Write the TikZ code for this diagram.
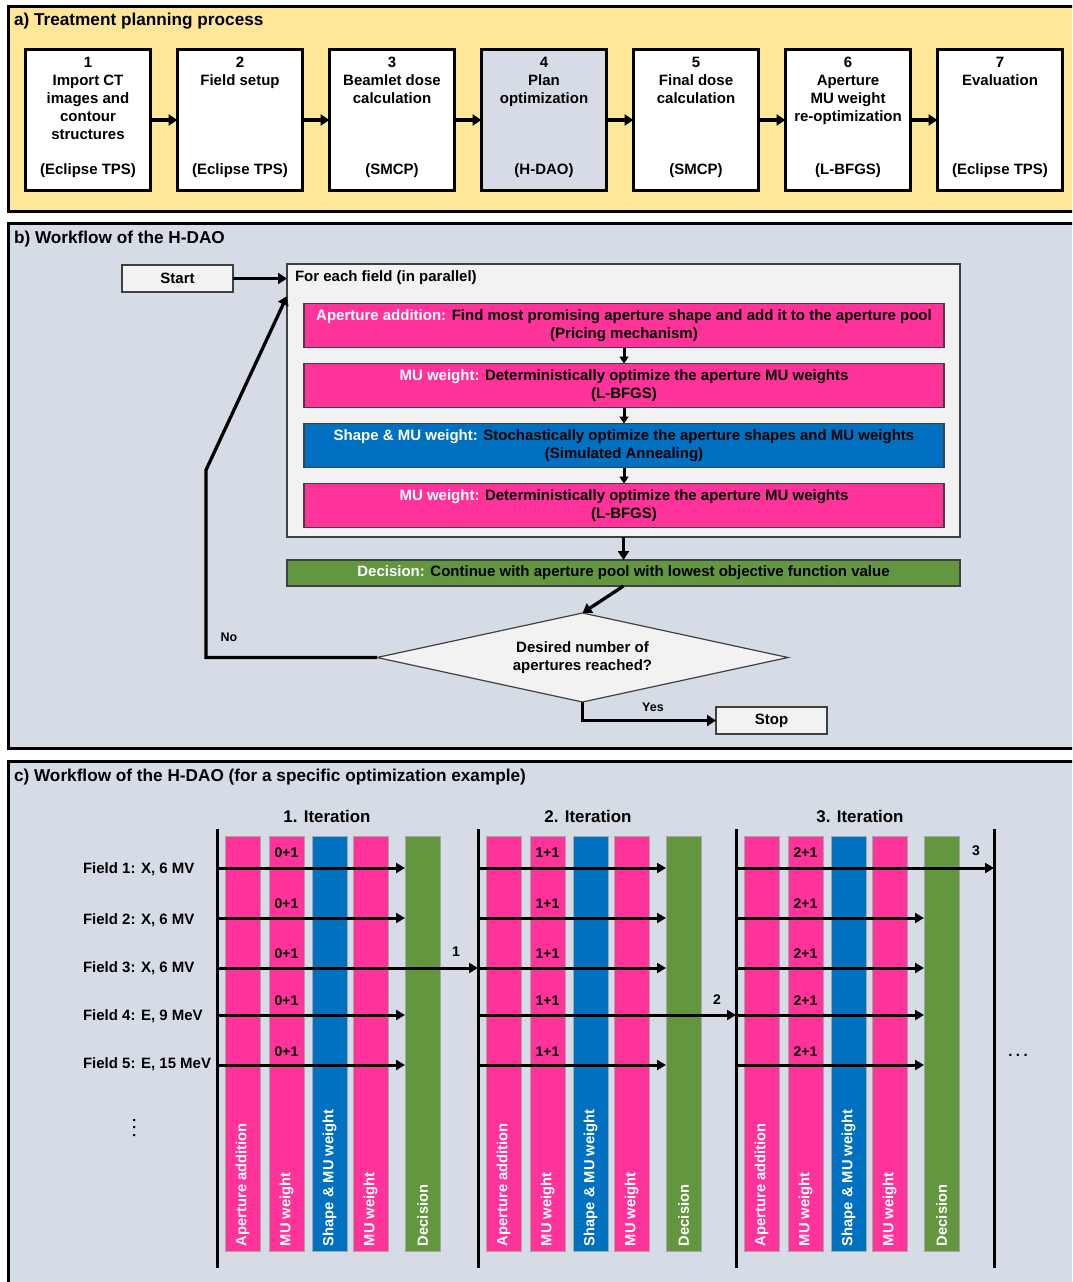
\documentclass[tikz,border=0pt]{standalone}
\usepackage{fontspec}
\setmainfont{Liberation Sans}
\usetikzlibrary{arrows.meta,shapes.geometric,calc}
\definecolor{yellowbg}{HTML}{FFE699}
\definecolor{panelgray}{HTML}{D6DCE5}
\definecolor{boxgray}{HTML}{F2F2F2}
\definecolor{hpink}{HTML}{FF3399}
\definecolor{hblue}{HTML}{0070C0}
\definecolor{hgreen}{HTML}{62963F}
\definecolor{edgegray}{HTML}{404040}
\definecolor{colborder}{HTML}{A6A6A6}
\tikzset{
 base/.style={font=\bfseries\fontsize{15}{18}\selectfont, inner sep=0pt, outer sep=0pt},
 ttl/.style={font=\bfseries\fontsize{17.2}{20}\selectfont, anchor=west},
 iter/.style={font=\bfseries\fontsize{16.9}{20}\selectfont},
 panel/.style={draw=black, line width=3pt},
 abox/.style={draw=black, line width=3pt, minimum width=125, minimum height=141, fill=white},
 atext/.style={anchor=north, align=center},
 bigarrow/.style={line width=3.3pt, -{Triangle[length=9pt,width=11pt]}},
 smallarrow/.style={line width=3pt, -{Triangle[length=7pt,width=9pt]}},
 gbox/.style={draw=edgegray, line width=1.2pt, fill=boxgray},
 pbox/.style={draw=edgegray, line width=1.2pt, minimum width=640, minimum height=44, align=center},
 col/.style={draw=colborder, line width=1pt, minimum width=35, minimum height=415},
 vlab/.style={rotate=90, anchor=west, text=white, font=\bfseries\fontsize{14.7}{16}\selectfont},
 flab/.style={anchor=west},
 cnt/.style={font=\bfseries\fontsize{14}{16}\selectfont},
 smalltxt/.style={font=\bfseries\fontsize{12.5}{14}\selectfont},
 carrow/.style={line width=3pt, -{Triangle[length=9pt,width=10pt]}},
}
\begin{document}
\begin{tikzpicture}[x=1pt,y=-1pt, every node/.style={base}]
\useasboundingbox (0,0) rectangle (1072,1282);
\clip (0,0) rectangle (1072,1282);
\fill[white] (0,0) rectangle (1072,1282);

% ---------------- panels
\draw[panel, fill=yellowbg] (8,6) rectangle (1090,211);
\draw[panel, fill=panelgray] (8,223) rectangle (1090,748);
\draw[panel, fill=panelgray] (8,761) rectangle (1090,1300);

% ---------------- panel a
\node[ttl] (ta) at (14,21) {a) Treatment planning process};
\node[abox] (a1) at (88,120) {};
\node[abox] (a2) at (240,120) {};
\node[abox] (a3) at (392,120) {};
\node[abox, fill=panelgray] (a4) at (544,120) {};
\node[abox] (a5) at (696,120) {};
\node[abox] (a6) at (848,120) {};
\node[abox] (a7) at (1000,120) {};

\node[atext] (a1t) at ($(a1.north)+(0,8)$) {1\\Import CT\\images and\\contour\\structures};
\node[atext] (a2t) at ($(a2.north)+(0,8)$) {2\\Field setup};
\node[atext] (a3t) at ($(a3.north)+(0,8)$) {3\\Beamlet dose\\calculation};
\node[atext] (a4t) at ($(a4.north)+(0,8)$) {4\\Plan\\optimization};
\node[atext] (a5t) at ($(a5.north)+(0,8)$) {5\\Final dose\\calculation};
\node[atext] (a6t) at ($(a6.north)+(0,8)$) {6\\Aperture\\MU weight\\re-optimization};
\node[atext] (a7t) at ($(a7.north)+(0,8)$) {7\\Evaluation};

\node (a1b) at ($(a1.south)+(0,-19.5)$) {(Eclipse TPS)};
\node (a2b) at ($(a2.south)+(0,-19.5)$) {(Eclipse TPS)};
\node (a3b) at ($(a3.south)+(0,-19.5)$) {(SMCP)};
\node (a4b) at ($(a4.south)+(0,-19.5)$) {(H-DAO)};
\node (a5b) at ($(a5.south)+(0,-19.5)$) {(SMCP)};
\node (a6b) at ($(a6.south)+(0,-19.5)$) {(L-BFGS)};
\node (a7b) at ($(a7.south)+(0,-19.5)$) {(Eclipse TPS)};

\draw[bigarrow] (a1.east) -- (a2.west);
\draw[bigarrow] (a2.east) -- (a3.west);
\draw[bigarrow] (a3.east) -- (a4.west);
\draw[bigarrow] (a4.east) -- (a5.west);
\draw[bigarrow] (a5.east) -- (a6.west);
\draw[bigarrow] (a6.east) -- (a7.west);

% ---------------- panel b
\node[ttl] (tb) at (14,239) {b) Workflow of the H-DAO};
\node[gbox, minimum width=111, minimum height=27] (start) at (177.5,278.5) {Start};
\node[gbox, minimum width=673, minimum height=273] (cont) at (623.5,400.5) {};
\draw[bigarrow] (start.east) -- (start.east -| cont.west);
\node[anchor=west] (conttxt) at (295,278) {For each field (in parallel)};
\node[pbox, fill=hpink] (pa) at (624,325.5) {\textcolor{white}{Aperture addition:} Find most promising aperture shape and add it to the aperture pool\\(Pricing mechanism)};
\node[pbox, fill=hpink] (pb) at (624,385.5) {\textcolor{white}{MU weight:} Deterministically optimize the aperture MU weights\\(L-BFGS)};
\node[pbox, fill=hblue] (pc) at (624,445.5) {\textcolor{white}{Shape \& MU weight:} Stochastically optimize the aperture shapes and MU weights\\(Simulated Annealing)};
\node[pbox, fill=hpink] (pd) at (624,505.5) {\textcolor{white}{MU weight:} Deterministically optimize the aperture MU weights\\(L-BFGS)};
\draw[smallarrow] (pa.south) -- (pb.north);
\draw[smallarrow] (pb.south) -- (pc.north);
\draw[smallarrow] (pc.south) -- (pd.north);

\node[gbox, fill=hgreen, minimum width=673, minimum height=26] (dec) at (623.5,573) {\textcolor{white}{Decision:} Continue with aperture pool with lowest objective function value};
\draw[bigarrow] (cont.south) -- (dec.north);

\coordinate (dian) at (582.5,613);
\coordinate (diae) at (788,657.5);
\coordinate (dias) at (582.5,702);
\coordinate (diaw) at (377,657.5);
\draw[gbox] (dian) -- (diae) -- (dias) -- (diaw) -- cycle;
\node[align=center] (dia) at (582.5,657.5) {Desired number of\\apertures reached?};
\draw[bigarrow] (dec.south) -- (dian);

\node[gbox, minimum width=111, minimum height=27] (stop) at (771.5,720.5) {Stop};
\draw[bigarrow] (dias) |- (stop.west);
\node[smalltxt] (yes) at (653,707) {Yes};

\coordinate (nocorner) at (206,657.5);
\coordinate (nobend) at (206,470);
\coordinate (noend) at ($(cont.north west)+(0,32)$);
\draw[bigarrow] (diaw) -- (nocorner) -- (nobend) -- (noend);
\node[smalltxt] (no) at (229,637) {No};

% ---------------- panel c
\node[ttl] (tc) at (14,777) {c) Workflow of the H-DAO (for a specific optimization example)};
\node[iter] (it1) at (327,816) {1. Iteration};
\node[iter] (it2) at (588,816) {2. Iteration};
\node[iter] (it3) at (860,816) {3. Iteration};

\foreach \x [count=\k] in {217,478,736,994} {
  \coordinate (L\k) at (\x,829);
  \draw[line width=3pt] (L\k) -- ++(0,439);
}

\foreach \k/\x in {1/217,2/478,3/736} {
  \foreach \j/\dx/\c/\t in {1/25.5/hpink/Aperture addition, 2/69.5/hpink/MU weight, 3/112.5/hblue/Shape \& MU weight, 4/153.5/hpink/MU weight, 5/205.5/hgreen/Decision} {
    \node[col, fill=\c] (c\k\j) at ({\x+\dx},1043.5) {};
    \node[vlab] (v\k\j) at ($(c\k\j.south)+(0,-5)$) {\t};
  }
  \foreach \f/\y in {1/868,2/918,3/968,4/1015,5/1065} {
    \coordinate (r\k\f) at (\x,\y);
  }
}

\foreach \k/\f in {1/1,1/2,1/4,1/5,2/1,2/2,2/3,2/5,3/2,3/3,3/4,3/5} {
  \draw[carrow] (r\k\f) -- (r\k\f -| c\k5.west);
}
\draw[carrow] (r13) -- (r13 -| L2);
\draw[carrow] (r24) -- (r24 -| L3);
\draw[carrow] (r31) -- (r31 -| L4);

\foreach \x/\n in {286.5/0, 547.5/1, 805.5/2} {
  \foreach \ly in {853,904,954,1001,1052} {
    \node[cnt] at (\x,\ly) {\n+1};
  }
}
\node[cnt] (n1) at (456,952) {1};
\node[cnt] (n2) at (717,1000) {2};
\node[cnt] (n3) at (976,851) {3};

\node[flab] (f1) at (83,869) {Field 1: X, 6 MV};
\node[flab] (f2) at (83,920) {Field 2: X, 6 MV};
\node[flab] (f3) at (83,968) {Field 3: X, 6 MV};
\node[flab] (f4) at (83,1016) {Field 4: E, 9 MeV};
\node[flab] (f5) at (83,1064) {Field 5: E, 15 MeV};

\node[anchor=base] (hdots) at (1018,1056) {.\hspace{3.5pt}.\hspace{3.5pt}.};
\node[rotate=-90, anchor=base] (vdots) at (133,1128) {.\hspace{3pt}.\hspace{3pt}.};
\end{tikzpicture}
\end{document}
